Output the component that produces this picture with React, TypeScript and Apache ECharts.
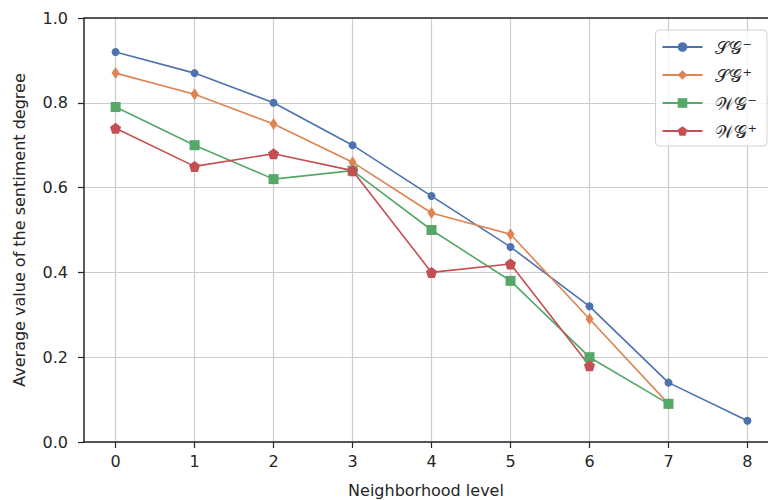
import React, { useEffect, useRef } from "react";
import * as echarts from "echarts";

const levels = [0, 1, 2, 3, 4, 5, 6, 7, 8];
const sgMinus = [0.92, 0.87, 0.8, 0.7, 0.58, 0.46, 0.32, 0.14, 0.05];
const sgPlus = [0.87, 0.82, 0.75, 0.66, 0.54, 0.49, 0.29, 0.09];
const wgMinus = [0.79, 0.7, 0.62, 0.64, 0.5, 0.38, 0.2, 0.09];
const wgPlus = [0.74, 0.65, 0.68, 0.64, 0.4, 0.42, 0.18];
const seriesNames = ["𝒮𝒢⁻", "𝒮𝒢⁺", "𝒲𝒢⁻", "𝒲𝒢⁺"];

const colors = ["#4c72b0", "#dd8452", "#55a868", "#c44e52"];
const pentagon = "path://M0,-1 L0.951,-0.309 L0.588,0.809 L-0.588,0.809 L-0.951,-0.309 Z";
const diamond = "path://M0,-1 L0.6,0 L0,1 L-0.6,0 Z";

export default function App() {
  const ref = useRef<HTMLDivElement>(null);
  useEffect(() => {
    if (!ref.current) return;
    const chart = echarts.init(ref.current, null, { renderer: "svg" });
    const font = "DejaVu Sans";
    const textColor = "#262626";
    const mk = (vals: number[]) => vals.map((v, i) => [levels[i], v]);
    const datas = [sgMinus, sgPlus, wgMinus, wgPlus];
    const symbols = ["circle", diamond, "rect", pentagon];
    const sizes: any[] = [8, [8, 12], 10, 11];
    chart.setOption({
      animation: false,
      backgroundColor: "#ffffff",
      grid: { left: 84, top: 18, right: 0, bottom: 58, show: false, outerBoundsMode: "none", containLabel: false },
      legend: {
        right: 1,
        top: 30,
        orient: "vertical",
        itemWidth: 40,
        itemHeight: 12,
        itemGap: 10,
        padding: [8, 10, 6, 6],
        borderColor: "#d0d0d0",
        borderWidth: 1,
        borderRadius: 4,
        backgroundColor: "rgba(255,255,255,0.8)",
        textStyle: { fontFamily: font, fontSize: 18, color: textColor, padding: [0, 0, 0, 8] },
        data: seriesNames,
      },
      xAxis: {
        type: "value",
        min: -0.4,
        max: 8.26,
        name: "Neighborhood level",
        nameLocation: "middle",
        nameGap: 40,
        nameTextStyle: { fontFamily: font, fontSize: 16, color: textColor },
        axisLine: { show: true, onZero: false, lineStyle: { color: "#262626", width: 1.5 } },
        axisTick: { show: true, length: 6, customValues: levels, lineStyle: { color: "#262626", width: 1.2 } },
        axisLabel: { customValues: levels, fontFamily: font, fontSize: 16, color: textColor, margin: 11 },
        splitLine: { show: true, lineStyle: { color: "#cccccc", width: 1.2 } },
      },
      yAxis: {
        type: "value",
        min: 0,
        max: 1,
        interval: 0.2,
        name: "Average value of the sentiment degree",
        nameLocation: "middle",
        nameGap: 57,
        nameTextStyle: { fontFamily: font, fontSize: 16, color: textColor },
        axisLine: { show: true, onZero: false, lineStyle: { color: "#262626", width: 1.5 } },
        axisTick: { show: true, length: 6, lineStyle: { color: "#262626", width: 1.2 } },
        axisLabel: {
          fontFamily: font,
          fontSize: 16,
          color: textColor,
          margin: 16,
          formatter: (v: number) => v.toFixed(1),
        },
        splitLine: { show: true, lineStyle: { color: "#cccccc", width: 1.2 } },
      },
      graphic: [
        {
          type: "line",
          shape: { x1: 84, y1: 18, x2: 768, y2: 18 },
          style: { stroke: "#262626", lineWidth: 1.5 },
          z: 10,
        },
      ],
      series: datas.map((d, i) => ({
        name: seriesNames[i],
        type: "line",
        data: mk(d),
        symbol: symbols[i],
        symbolSize: sizes[i],
        showAllSymbol: true,
        color: colors[i],
        itemStyle: { color: colors[i] },
        lineStyle: { color: colors[i], width: 1.6 },
        clip: false,
      })),
    });
    return () => chart.dispose();
  }, []);
  return <div ref={ref} style={{ width: 768, height: 500, position: "absolute", left: 0, top: 0 }} />;
}
